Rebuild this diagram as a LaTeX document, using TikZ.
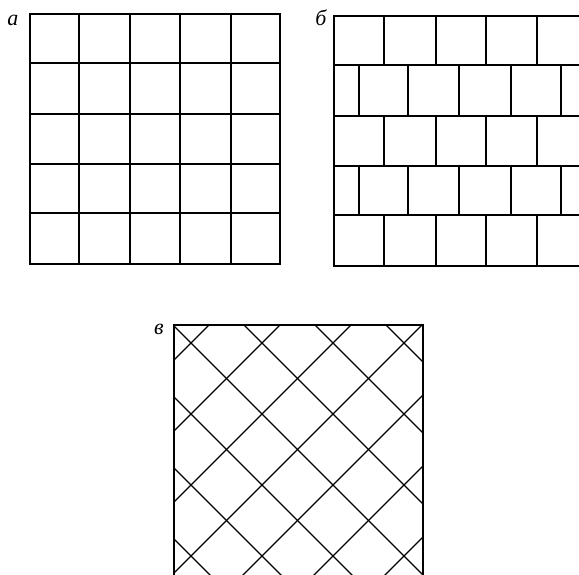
\documentclass[tikz,border=0pt]{standalone}
\usepackage{fontspec}
\setmainfont{Liberation Serif}
\begin{document}
\begin{tikzpicture}[x=1pt,y=-1pt,
  frame/.style={line width=2.2pt,line cap=rect},
  grid line/.style={line width=1.3pt},
  lbl/.style={font=\fontsize{22}{22}\selectfont\itshape,inner sep=0pt}]
\useasboundingbox (0,0) rectangle (579,574);
% ---- panel a ----
\node[lbl] (la) at (13,20) {а};
\foreach \v in {79,130,180,231}{
  \draw[grid line] (\v,14) -- (\v,264);}
\foreach \h in {63,114,164,213}{
  \draw[grid line] (30,\h) -- (280,\h);}
\draw[frame] (30,14) rectangle (280,264);
% ---- panel b ----
\node[lbl] (lb) at (321,18) {б};
\begin{scope}
\clip (300,0) rectangle (579,300);
\foreach \h in {65,116,166,215}{
  \draw[grid line] (334,\h) -- (585,\h);}
\foreach \y in {16,116,215}{
  \foreach \v in {384,436,486,537}{
    \draw[grid line] (\v,\y) -- (\v,\y+50);}}
\foreach \y in {65,166}{
  \foreach \v in {359,408,459,511,561}{
    \draw[grid line] (\v,\y) -- (\v,\y+50);}}
\draw[frame] (590,16) -- (334,16) -- (334,266) -- (590,266);
\end{scope}
% ---- panel c ----
\node[lbl] (lc) at (159,329) {в};
\begin{scope}
\clip (174,325) rectangle (423,580);
\foreach \k in {-8,...,8}{
  \pgfmathsetmacro{\c}{-152+71*\k}
  \draw[grid line] (\c+300,300) -- (\c+600,600);}
\foreach \k in {-8,...,8}{
  \pgfmathsetmacro{\d}{534+71*\k}
  \draw[grid line] (\d-300,300) -- (\d-600,600);}
\end{scope}
\draw[frame] (174,580) -- (174,325) -- (423,325) -- (423,580);
\end{tikzpicture}
\end{document}
